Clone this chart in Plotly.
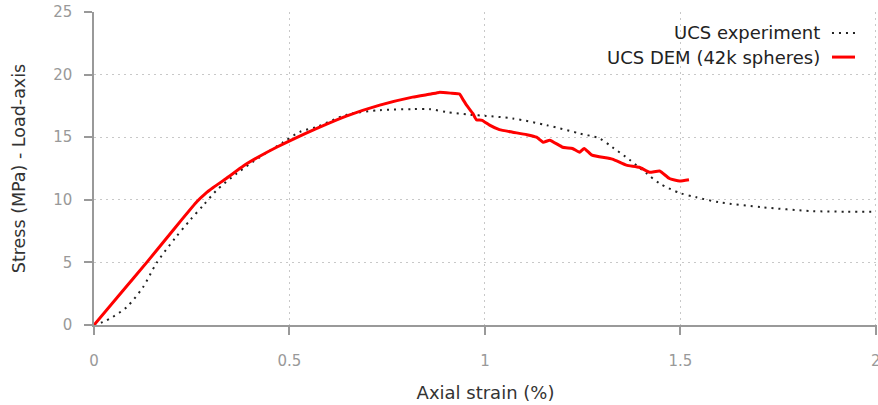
import plotly.graph_objects as go

# Laboratory UCS test: axial strain (%) vs stress (MPa)
exp_strain = [0.000, 0.023, 0.048, 0.084, 0.125, 0.160, 0.207, 0.246, 0.280, 0.314,
              0.365, 0.425, 0.484, 0.527, 0.570, 0.647, 0.731, 0.815, 0.859, 0.903,
              0.961, 1.003, 1.071, 1.158, 1.242, 1.293, 1.326, 1.370, 1.414, 1.447,
              1.498, 1.541, 1.600, 1.711, 1.836, 1.926, 2.000]
exp_stress = [0.00, 0.24, 0.64, 1.44, 3.00, 4.95, 6.92, 8.38, 9.58, 10.77,
              12.10, 13.43, 14.60, 15.43, 15.83, 16.80, 17.16, 17.24, 17.24, 17.00,
              16.80, 16.70, 16.50, 15.96, 15.30, 14.90, 14.20, 13.20, 12.10, 11.30,
              10.55, 10.20, 9.80, 9.40, 9.10, 9.05, 9.05]

# DEM simulation (42k spheres)
dem_strain = [0.000, 0.070, 0.135, 0.186, 0.225, 0.263, 0.285, 0.305, 0.339, 0.382,
              0.425, 0.467, 0.510, 0.570, 0.647, 0.731, 0.815, 0.862, 0.883, 0.912,
              0.935, 0.944, 0.953, 0.969, 0.978, 0.993, 1.012, 1.037, 1.071, 1.107,
              1.132, 1.149, 1.166, 1.199, 1.224, 1.242, 1.254, 1.274, 1.326, 1.362,
              1.395, 1.421, 1.447, 1.472, 1.498, 1.522]
dem_stress = [0.00, 2.60, 5.00, 6.95, 8.44, 9.85, 10.50, 10.98, 11.72, 12.70,
              13.50, 14.20, 14.85, 15.70, 16.70, 17.56, 18.20, 18.45, 18.58, 18.52,
              18.45, 18.00, 17.56, 16.90, 16.40, 16.35, 15.96, 15.60, 15.40, 15.20,
              15.00, 14.60, 14.76, 14.20, 14.10, 13.80, 14.10, 13.57, 13.25, 12.77,
              12.60, 12.20, 12.30, 11.70, 11.50, 11.60]

x_ticks = [0, 0.5, 1, 1.5, 2]
x_tick_text = ["0", "0.5", "1", "1.5", "2"]
y_ticks = [0, 5, 10, 15, 20, 25]

legend_labels = ["UCS experiment", "UCS DEM (42k spheres)"]

FONT = "DejaVu Sans"
EXP_DASH = "2px,5px"

fig = go.Figure()
fig.add_trace(go.Scatter(x=exp_strain, y=exp_stress, mode="lines",
                         line=dict(color="#222222", width=2, dash=EXP_DASH,
                                   shape="spline", smoothing=0.8),
                         name=legend_labels[0], showlegend=False))
fig.add_trace(go.Scatter(x=dem_strain, y=dem_stress, mode="lines",
                         line=dict(color="#ff0000", width=3, shape="spline",
                                   smoothing=0.4),
                         name=legend_labels[1], showlegend=False))

# Legend: right-aligned labels with the line sample to their right
rows_y = [0.933, 0.856]
styles = [dict(color="#222222", width=2, dash=EXP_DASH), dict(color="#ff0000", width=3)]
for label, yy, st in zip(legend_labels, rows_y, styles):
    fig.add_annotation(x=0.9298, y=yy, xref="paper", yref="paper", text=label,
                       showarrow=False, xanchor="right", yanchor="middle",
                       font=dict(family=FONT, size=18, color="#222222"))
    fig.add_shape(type="line", xref="paper", yref="paper",
                  x0=0.9425, x1=0.9719, y0=yy, y1=yy, line=st)

axis_common = dict(
    showline=True, linecolor="#999999", linewidth=1.5,
    ticks="outside", ticklen=8, tickcolor="#999999", tickwidth=1.5,
    showgrid=True, gridcolor="#c8c8c8", griddash="2px,4px", gridwidth=1,
    zeroline=False, automargin=False, ticklabeloverflow="allow",
    tickfont=dict(family=FONT, size=15, color="#999999"),
)

fig.update_layout(
    width=878, height=405,
    margin=dict(l=94, r=1, t=12, b=80),
    paper_bgcolor="white", plot_bgcolor="white",
    font=dict(family=FONT),
    xaxis=dict(range=[0, 2.003], tickvals=x_ticks, ticktext=x_tick_text,
               ticklabelstandoff=13,
               title=dict(text="Axial strain (%)", standoff=18,
                          font=dict(family=FONT, size=18, color="#333333")),
               **axis_common),
    yaxis=dict(range=[0, 25], tickvals=y_ticks, ticklabelstandoff=9,
               title=dict(text="Stress (MPa) - Load-axis", standoff=23,
                          font=dict(family=FONT, size=17.5, color="#333333")),
               **axis_common),
)

fig.write_html("out.html")
